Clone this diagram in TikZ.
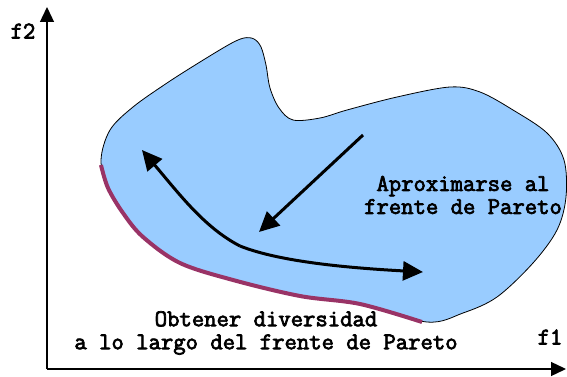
\documentclass[tikz,border=0pt]{standalone}
\usepackage{fontspec}
\newfontfamily\courfont[FakeBold=3]{Latin Modern Mono}
\usetikzlibrary{arrows.meta}
\definecolor{regionblue}{HTML}{99CCFF}
\definecolor{frontpurple}{HTML}{993366}

\begin{document}
\begin{tikzpicture}[x=1pt, y=-1pt,
    axis/.style={line width=1.3pt, -{Triangle[length=15pt,width=14pt]}},
    bigarrow/.style={line width=3pt, -{Triangle[length=20pt,width=19pt]}},
    label/.style={font=\courfont\fontsize{24}{23}\selectfont, align=center, inner sep=0pt}]
    \useasboundingbox (0,0) rectangle (567,377);

    \draw[fill=regionblue, line width=0.8pt] plot[smooth cycle, tension=0.55] coordinates {
        (101,160) (110,130) (133,107) (167,83) (200,62) (230,44) (244,38)
        (254,39) (261,47) (266,65) (270,88) (279,108) (293,120) (320,118) (347,110)
        (397,97) (450,87) (480,92) (513,110) (547,133) (564,160) (566,197)
        (557,230) (533,263) (497,297) (463,313) (427,322) (360,304)
        (300,296) (233,280) (180,263) (143,237) (123,213) (108,188)};
    \draw[frontpurple, line width=4pt] plot[smooth, tension=0.55] coordinates {
        (101,165) (108,188) (123,213) (143,237) (180,263) (233,280)
        (300,296) (360,304) (422,322)};

    \coordinate (origin) at (47,369);
    \coordinate (f2tip) at (47,7);
    \coordinate (f1tip) at (566,369);
    \draw[axis] (origin) -- (f2tip);
    \draw[axis] (origin) -- (f1tip);

    \coordinate (approxA) at (363,135);
    \coordinate (approxB) at (259,232);
    \draw[bigarrow] (approxA) -- (approxB);

    \coordinate (divA) at (142,150);
    \coordinate (divM) at (240,246);
    \coordinate (divB) at (423,272);
    \draw[bigarrow, {Triangle[length=20pt,width=19pt]}-] (divA) .. controls (180,195) and (205,228) .. (divM);
    \draw[bigarrow] (divM) .. controls (280,262) and (350,268) .. (divB);

    \node[label] (f2) at (23,31) {f2};
    \node[label] (f1) at (550,337) {f1};
    \node[label] (approx) at (463,195) {Aproximarse al\\frente de Pareto};
    \node[label] (diverse) at (266,333) {Obtener diversidad\\a lo largo del frente de Pareto};
\end{tikzpicture}
\end{document}
